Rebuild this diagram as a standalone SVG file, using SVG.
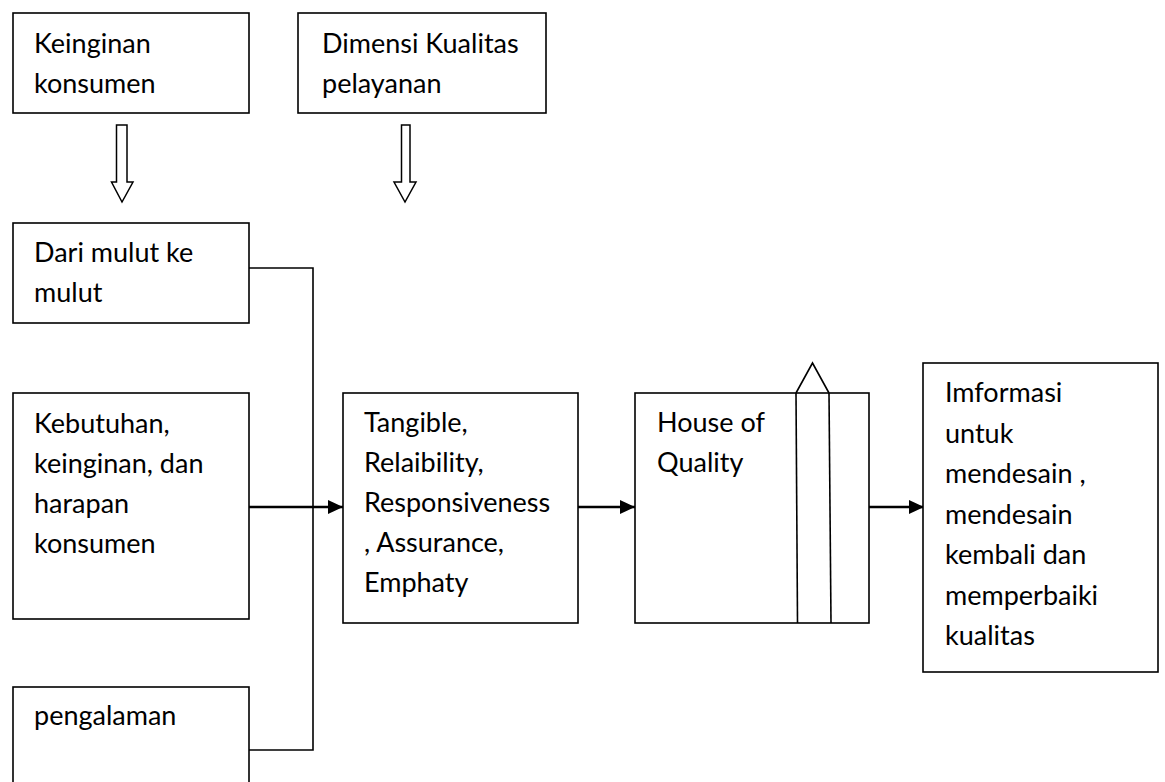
<svg xmlns="http://www.w3.org/2000/svg" width="1165" height="782" viewBox="0 0 1165 782">
<style>
.box{fill:#fff;stroke:#000;stroke-width:1.6}
.t{font-family:Lato,"Open Sans","Liberation Sans",sans-serif;font-size:27px;fill:#000}
.ln{fill:none;stroke:#000;stroke-width:1.6}
.ar{fill:none;stroke:#000;stroke-width:2.4}
.hol{fill:#fff;stroke:#000;stroke-width:1.5;stroke-linejoin:miter}
</style>
<defs>
<marker id="ah" markerWidth="16" markerHeight="16" refX="15" refY="7" orient="auto" markerUnits="userSpaceOnUse">
<path d="M0,0 L15,7 L0,14 Z" fill="#000"/>
</marker>
</defs>
<rect width="1165" height="782" fill="#fff"/>
<g id="connectors">
<path class="ln" d="M249,268 H313 V750 H249"/>
<line class="ar" x1="249" y1="507" x2="343" y2="507" marker-end="url(#ah)"/>
<line class="ar" x1="578" y1="507" x2="635" y2="507" marker-end="url(#ah)"/>
<line class="ar" x1="869" y1="507" x2="924" y2="507" marker-end="url(#ah)"/>
<polygon class="hol" points="116.5,125 127,125 127,182 133,182 122,202 111.5,182 116.5,182"/>
<polygon class="hol" points="401.5,125 410,125 410,182 416,182 405,202 394,182 401.5,182"/>
</g>
<g id="n-keinginan">
<rect class="box" x="13" y="13" width="236" height="100"/>
<text class="t" x="34" y="53">Keinginan</text>
<text class="t" x="34" y="93">konsumen</text>
</g>
<g id="n-dimensi">
<rect class="box" x="298" y="13" width="248" height="100"/>
<text class="t" x="322" y="53">Dimensi Kualitas</text>
<text class="t" x="322" y="93">pelayanan</text>
</g>
<g id="n-dari">
<rect class="box" x="13" y="223" width="236" height="100"/>
<text class="t" x="34" y="262">Dari mulut ke</text>
<text class="t" x="34" y="302">mulut</text>
</g>
<g id="n-kebutuhan">
<rect class="box" x="13" y="393" width="236" height="226"/>
<text class="t" x="34" y="433">Kebutuhan,</text>
<text class="t" x="34" y="473">keinginan, dan</text>
<text class="t" x="34" y="513">harapan</text>
<text class="t" x="34" y="553">konsumen</text>
</g>
<g id="n-pengalaman">
<rect class="box" x="13" y="687" width="236" height="110"/>
<text class="t" x="34" y="725">pengalaman</text>
</g>
<g id="n-tangible">
<rect class="box" x="343" y="393" width="235" height="230"/>
<text class="t" x="364" y="432">Tangible,</text>
<text class="t" x="364" y="472">Relaibility,</text>
<text class="t" x="364" y="512">Responsiveness</text>
<text class="t" x="364" y="552">, Assurance,</text>
<text class="t" x="364" y="592">Emphaty</text>
</g>
<g id="n-hoq">
<rect class="box" x="635" y="393" width="234" height="230"/>
<line class="ln" x1="796" y1="393" x2="797.5" y2="623"/>
<line class="ln" x1="829" y1="393" x2="831" y2="623"/>
<polyline class="ln" points="796,393 812.5,363 829,393"/>
<text class="t" x="657" y="432">House of</text>
<text class="t" x="657" y="472">Quality</text>
</g>
<g id="n-info">
<rect class="box" x="923" y="363" width="235" height="309"/>
<text class="t" x="945" y="402">Imformasi</text>
<text class="t" x="945" y="442.5">untuk</text>
<text class="t" x="945" y="483">mendesain ,</text>
<text class="t" x="945" y="523.5">mendesain</text>
<text class="t" x="945" y="564">kembali dan</text>
<text class="t" x="945" y="604.5">memperbaiki</text>
<text class="t" x="945" y="645">kualitas</text>
</g>
</svg>
